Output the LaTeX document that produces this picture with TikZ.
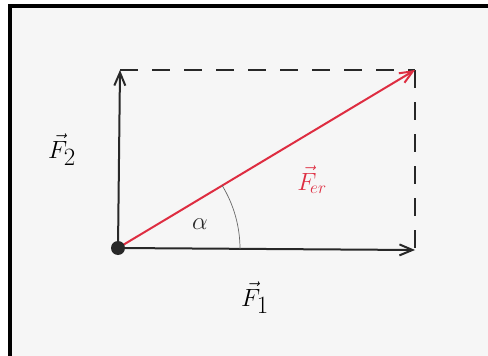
\documentclass[tikz,border=0pt]{standalone}
\usepackage{amsmath}
\usepackage{tikz}
\usetikzlibrary{arrows.meta}
\definecolor{paper}{RGB}{246,246,246}
\definecolor{pen}{RGB}{40,40,40}
\definecolor{redpen}{RGB}{222,45,65}

\begin{document}
\begin{tikzpicture}[x=1pt,y=-1pt]
	\tikzset{force/.style={pen,line width=2pt,-{Straight Barb[length=13pt,width=11pt]}},
		helper/.style={pen,line width=1.8pt,dash pattern=on 18pt off 14pt},
		lbl/.style={inner sep=0pt,font=\fontsize{34}{34}\selectfont}}
	\useasboundingbox (0,0) rectangle (488,356);
	\fill[paper] (10,6) rectangle (492,362);
	\draw[black,line width=3.5pt] (10,362) -- (10,6) -- (492,6);
	\coordinate (O) at (118,248);
	\coordinate (T) at (120,70);
	\coordinate (R) at (415,70);
	\coordinate (E) at (415,250);
	\draw[helper] (T) -- (R);
	\draw[helper] (R) -- (E);
	\draw[force] (O) -- (T);
	\draw[force] (O) -- (E);
	\draw[force,redpen] (O) -- (R);
	\draw[pen!70,line width=0.7pt] (240,249) arc[start angle=0,end angle=-31.5,radius=122];
	\fill[pen] (O) circle (7pt);
	% labels
	\node[lbl] (f2) at (62,150) {$\vec{F}_2$};
	\node[lbl] (f1) at (255,298) {$\vec{F}_1$};
	\node[lbl,redpen,font=\fontsize{26}{26}\selectfont] (fr) at (312,180) {$\vec{F}_{\!er}$};
	\node[lbl,pen,font=\fontsize{28}{28}\selectfont] (al) at (200,224) {$\alpha$};
\end{tikzpicture}
\end{document}
